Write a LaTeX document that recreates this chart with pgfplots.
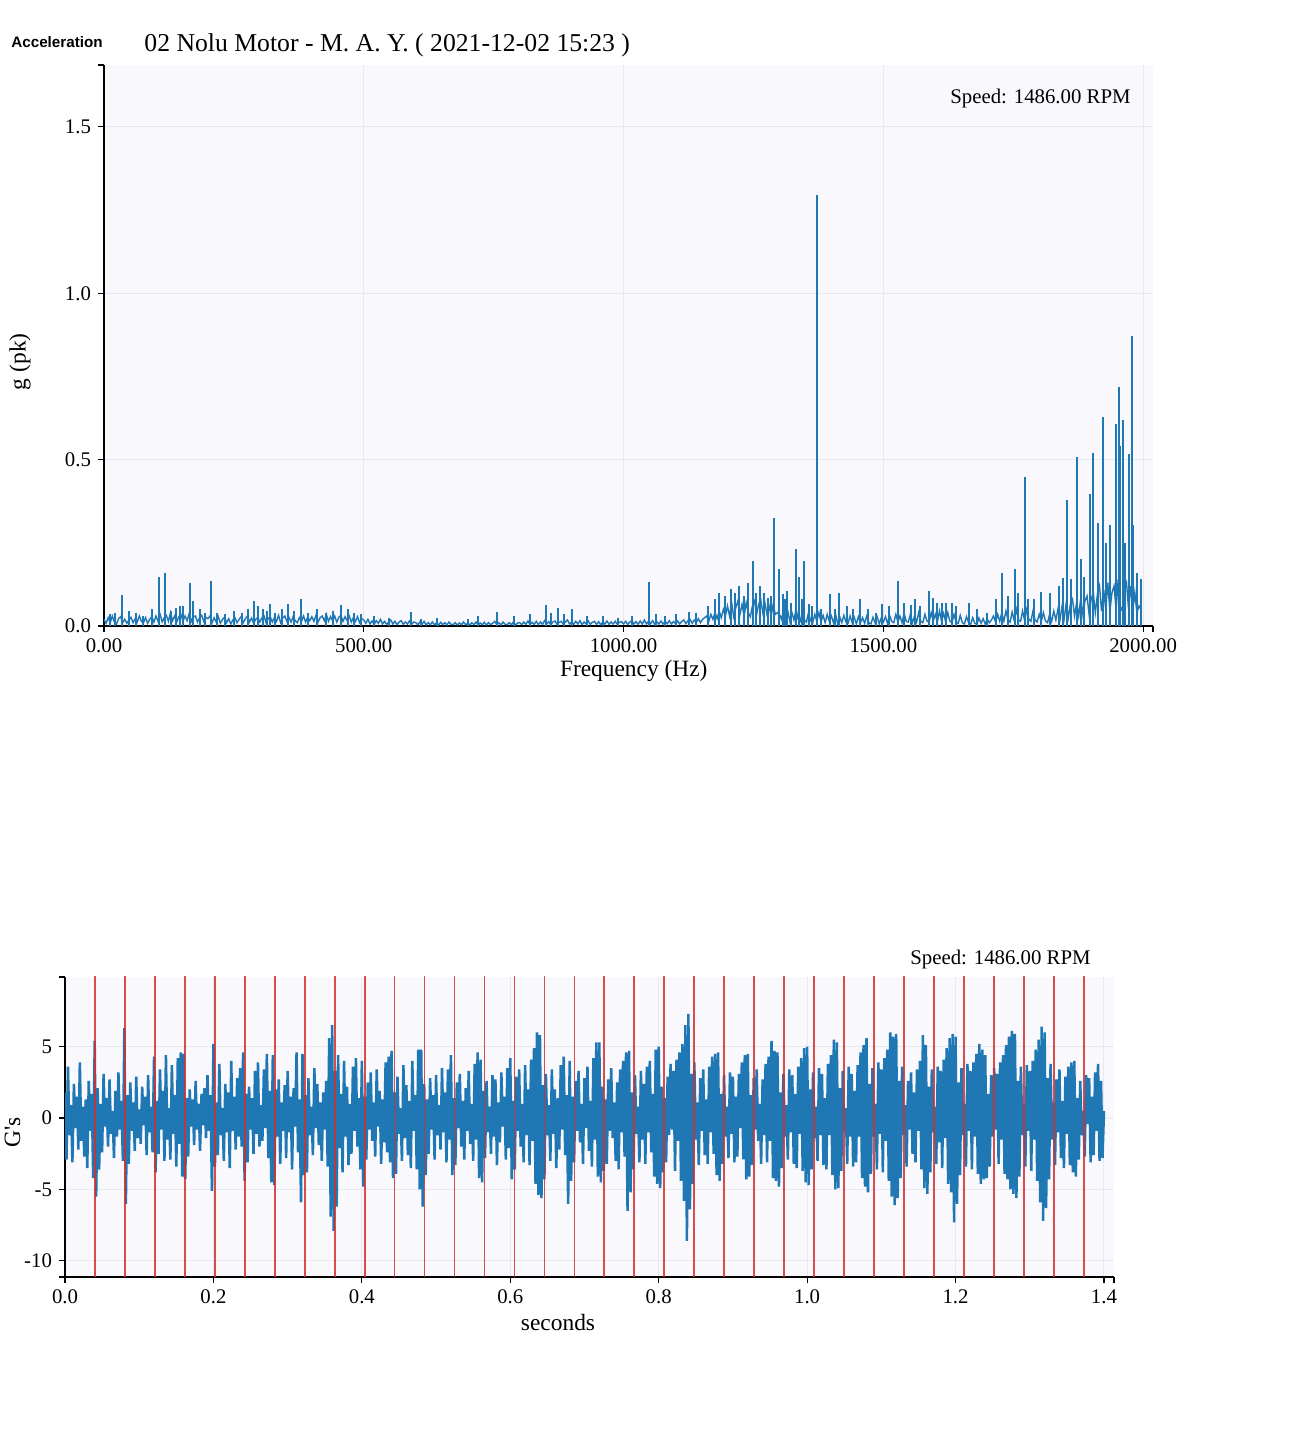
\documentclass[border=0pt]{standalone}
\usepackage{fontspec}
\setmainfont{Liberation Serif}
\newfontfamily\accfont{Liberation Sans}
\usepackage{pgfplots}
\pgfplotsset{compat=1.18}
\definecolor{plotblue}{RGB}{31,119,180}
\definecolor{bgc}{RGB}{249,249,253}
\definecolor{gridc}{RGB}{232,232,240}
\definecolor{redl}{RGB}{214,45,45}
\pgfplotsset{myax/.style={scale only axis, axis x line=bottom, axis y line=left,
  axis line style={-,line width=0.7pt,black}, tick align=outside, major tick length=3pt,
  tick style={black,line width=0.6pt}, grid=major, major grid style={gridc,line width=0.5pt},
  axis background/.style={fill=bgc},
  tick label style={font=\fontsize{10.4}{12}\selectfont},
  label style={font=\fontsize{11.7}{14}\selectfont},
  /pgf/number format/assume math mode=true,
  extra tick style={grid=none}}}
\begin{document}
\begin{tikzpicture}
\useasboundingbox (0,0) rectangle (651.5pt,717pt);
% ---------------- spectrum ----------------
\begin{axis}[myax, at={(52pt,404pt)}, anchor=south west, width=524.5pt, height=280.5pt,
  xmin=0, xmax=2019, ymin=0, ymax=1.686,
  xtick={0,500,1000,1500,2000}, ytick={0,0.5,1,1.5},
  extra x ticks={2019}, extra x tick labels={{}}, extra y ticks={1.686}, extra y tick labels={{}},
  xticklabel style={/pgf/number format/.cd,fixed,fixed zerofill,precision=2,1000 sep={}},
  yticklabel style={/pgf/number format/.cd,fixed,fixed zerofill,precision=1},
  xlabel={Frequency (Hz)}, ylabel={g (pk)},
  xlabel style={at={(axis description cs:0.505,-0.080)},anchor=center},
  ylabel style={at={(axis description cs:-0.080,0.471)},anchor=center}]
\addplot[plotblue, line width=0.7pt] table[row sep=\\, header=false, x expr=\coordindex*4, y index=0] {
0.02\\0.008\\0.025\\0.01\\0.03\\0.012\\0.006\\0.022\\0.028\\0.01\\0.02\\0.008\\0.018\\0.026\\0.01\\0.022\\0.012\\0.03\\0.014\\0.01\\0.025\\0.008\\0.02\\0.028\\0.012\\
0.03\\0.014\\0.035\\0.012\\0.025\\0.032\\0.014\\0.04\\0.016\\0.03\\0.012\\0.028\\0.035\\0.014\\0.03\\0.016\\0.038\\0.014\\0.028\\0.03\\0.012\\0.025\\0.032\\0.014\\0.026\\
0.022\\0.03\\0.01\\0.025\\0.012\\0.028\\0.008\\0.02\\0.026\\0.01\\0.022\\0.006\\0.018\\0.025\\0.01\\0.02\\0.028\\0.01\\0.022\\0.03\\0.012\\0.024\\0.008\\0.02\\0.026\\
0.012\\0.025\\0.03\\0.01\\0.022\\0.028\\0.012\\0.025\\0.014\\0.032\\0.01\\0.024\\0.03\\0.014\\0.026\\0.012\\0.028\\0.016\\0.01\\0.025\\0.014\\0.03\\0.012\\0.026\\0.016\\
0.028\\0.014\\0.032\\0.012\\0.025\\0.03\\0.016\\0.035\\0.014\\0.028\\0.016\\0.03\\0.012\\0.026\\0.032\\0.014\\0.028\\0.016\\0.03\\0.012\\0.025\\0.014\\0.028\\0.01\\0.022\\
0.018\\0.008\\0.02\\0.006\\0.015\\0.005\\0.016\\0.008\\0.02\\0.006\\0.014\\0.005\\0.012\\0.018\\0.006\\0.014\\0.004\\0.012\\0.016\\0.005\\0.012\\0.006\\0.015\\0.005\\0.012\\
0.01\\0.004\\0.012\\0.005\\0.014\\0.003\\0.01\\0.004\\0.012\\0.004\\0.009\\0.003\\0.011\\0.004\\0.01\\0.003\\0.012\\0.005\\0.004\\0.01\\0.003\\0.009\\0.004\\0.012\\0.004\\
0.008\\0.003\\0.01\\0.004\\0.012\\0.003\\0.009\\0.004\\0.011\\0.003\\0.01\\0.004\\0.008\\0.014\\0.004\\0.01\\0.003\\0.012\\0.005\\0.004\\0.01\\0.004\\0.012\\0.003\\0.009\\
0.01\\0.004\\0.012\\0.005\\0.015\\0.004\\0.011\\0.005\\0.014\\0.004\\0.012\\0.005\\0.016\\0.006\\0.013\\0.004\\0.012\\0.015\\0.005\\0.011\\0.014\\0.005\\0.012\\0.018\\0.006\\
0.012\\0.005\\0.014\\0.006\\0.016\\0.004\\0.012\\0.006\\0.015\\0.005\\0.011\\0.014\\0.005\\0.013\\0.004\\0.012\\0.006\\0.015\\0.005\\0.012\\0.006\\0.014\\0.005\\0.011\\0.013\\
0.006\\0.014\\0.005\\0.012\\0.016\\0.006\\0.013\\0.005\\0.015\\0.006\\0.018\\0.006\\0.014\\0.007\\0.016\\0.005\\0.013\\0.006\\0.015\\0.006\\0.014\\0.007\\0.016\\0.006\\0.013\\
0.007\\0.015\\0.006\\0.014\\0.018\\0.007\\0.016\\0.02\\0.008\\0.018\\0.01\\0.022\\0.01\\0.02\\0.025\\0.03\\0.014\\0.035\\0.02\\0.04\\0.022\\0.045\\0.025\\0.05\\0.03\\
0.06\\0.03\\0.07\\0.028\\0.055\\0.075\\0.035\\0.065\\0.03\\0.07\\0.04\\0.028\\0.06\\0.075\\0.035\\0.065\\0.08\\0.04\\0.07\\0.035\\0.06\\0.03\\0.065\\0.035\\0.04\\
0.035\\0.02\\0.05\\0.018\\0.045\\0.015\\0.04\\0.018\\0.05\\0.02\\0.014\\0.042\\0.018\\0.012\\0.04\\0.016\\0.01\\0.035\\0.014\\0.04\\0.012\\0.032\\0.01\\0.035\\0.014\\
0.03\\0.01\\0.035\\0.008\\0.028\\0.01\\0.032\\0.012\\0.008\\0.03\\0.01\\0.026\\0.006\\0.028\\0.01\\0.025\\0.008\\0.03\\0.01\\0.006\\0.026\\0.01\\0.028\\0.006\\0.024\\
0.012\\0.028\\0.008\\0.032\\0.014\\0.01\\0.035\\0.012\\0.03\\0.01\\0.038\\0.014\\0.012\\0.035\\0.01\\0.03\\0.012\\0.04\\0.014\\0.01\\0.035\\0.015\\0.012\\0.04\\0.015\\
0.035\\0.012\\0.045\\0.015\\0.038\\0.012\\0.04\\0.015\\0.01\\0.035\\0.012\\0.008\\0.032\\0.01\\0.006\\0.028\\0.01\\0.005\\0.025\\0.008\\0.005\\0.024\\0.008\\0.022\\0.006\\
0.02\\0.01\\0.018\\0.03\\0.012\\0.035\\0.014\\0.04\\0.015\\0.045\\0.018\\0.012\\0.042\\0.016\\0.05\\0.018\\0.014\\0.045\\0.016\\0.05\\0.02\\0.014\\0.045\\0.018\\0.012\\
0.035\\0.014\\0.04\\0.015\\0.01\\0.035\\0.014\\0.045\\0.018\\0.05\\0.02\\0.06\\0.022\\0.07\\0.025\\0.065\\0.08\\0.03\\0.07\\0.03\\0.085\\0.035\\0.075\\0.09\\0.035\\
0.08\\0.1\\0.04\\0.095\\0.12\\0.045\\0.11\\0.05\\0.13\\0.045\\0.1\\0.12\\0.05\\0.14\\0.06\\0.045\\0.11\\0.13\\0.05\\0.12\\0.045\\0.1\\0.04\\0.06\\0.05\\
};
\addplot[plotblue, line width=1.0pt, ycomb] coordinates {
(12,0.035) (22,0.04) (34.7,0.093) (48,0.045) (62,0.038) (76,0.03) (92,0.05) (105,0.146) (118,0.159)
(128,0.045) (138,0.055) (147,0.059) (152,0.06) (165,0.128) (171,0.076) (184,0.05) (194,0.04) (205,0.135)
(218,0.04) (232,0.035) (250,0.045) (266,0.04) (278,0.05) (288,0.075) (297,0.06) (306,0.05) (314,0.045)
(320,0.065) (330,0.04) (342,0.05) (355,0.065) (366,0.045) (380,0.081) (392,0.04) (410,0.05) (428,0.04)
(440,0.045) (456,0.062) (470,0.05) (482,0.04) (494,0.035)
(520,0.03) (548,0.025) (591,0.041) (610,0.02) (640,0.025) (700,0.02) (720,0.03) (756,0.041) (790,0.03)
(820,0.035) (850,0.064) (860,0.04) (874,0.054) (886,0.035) (900,0.052) (930,0.03) (960,0.03) (990,0.025)
(1016,0.03) (1049,0.133) (1062,0.035) (1080,0.03) (1100,0.035) (1126,0.042) (1140,0.04)
(1162,0.06) (1176,0.08) (1184,0.1) (1196,0.09) (1206,0.11) (1214,0.1) (1222,0.12) (1232,0.09) (1240,0.13)
(1248.6,0.195) (1255,0.10) (1262,0.12) (1270,0.1) (1278,0.085) (1284,0.09) (1290,0.326) (1298.6,0.17)
(1306,0.095) (1310,0.08) (1314,0.105) (1322,0.07) (1331,0.23) (1337,0.148) (1344,0.08) (1348,0.195)
(1356,0.065) (1362,0.06) (1373,1.296) (1380,0.05) (1398,0.095) (1406,0.05) (1415,0.098) (1430,0.06)
(1442,0.05) (1456,0.08) (1470,0.05) (1486,0.04) (1498,0.065) (1510,0.06) (1528,0.135) (1540,0.07)
(1553,0.062) (1560,0.08) (1570,0.06) (1587,0.105) (1596,0.085) (1604,0.07) (1612,0.068) (1620,0.07)
(1632,0.07) (1640,0.06) (1665,0.07) (1680,0.05) (1700,0.04) (1716,0.08) (1728,0.16) (1740,0.09)
(1753,0.172) (1760,0.1) (1772,0.448) (1779,0.08) (1790,0.08) (1803,0.102) (1820,0.1)
(1838,0.12) (1845,0.145) (1853,0.378) (1862,0.14)
(1872,0.508) (1880,0.2) (1887,0.147) (1897,0.396)
(1903,0.521) (1914,0.31) (1922,0.628)
(1928,0.25) (1936,0.305) (1947,0.608)
(1954,0.718) (1955,0.54) (1961,0.62) (1966,0.25) (1972,0.516)
(1978,0.872) (1980,0.305) (1988,0.16) (1996,0.14)
};
\end{axis}
% ---------------- waveform ----------------
\begin{axis}[myax, at={(32.5pt,78.5pt)}, anchor=south west, width=524.5pt, height=150pt,
  xmin=0, xmax=1.4135, ymin=-11.13, ymax=9.88,
  xtick={0,0.2,0.4,0.6,0.8,1.0,1.2,1.4}, ytick={-10,-5,0,5},
  extra x ticks={1.4135}, extra x tick labels={{}}, extra y ticks={9.88,-11.13}, extra y tick labels={{},{}},
  xticklabel style={/pgf/number format/.cd,fixed,fixed zerofill,precision=1},
  xlabel={seconds}, ylabel={G\textquotesingle s},
  xlabel style={at={(axis description cs:0.470,-0.153)},anchor=center},
  ylabel style={at={(axis description cs:-0.050,0.483)},anchor=center}]
\addplot[plotblue, line width=1.25pt] table[row sep=\\, header=false, x expr=\coordindex*0.002, y index=0] {
1.8\\-2.9\\3.6\\-1.2\\0.9\\-3.1\\2.4\\-0.7\\1.5\\-2.2\\3.9\\-1.6\\0.8\\-2.7\\1.3\\-3.5\\2.6\\-0.9\\1.7\\-4.2\\
5.4\\-5.5\\2.1\\-3.6\\1.0\\-2.4\\3.1\\-0.6\\1.4\\-2.0\\2.7\\-1.1\\0.5\\-2.8\\1.9\\-1.3\\3.2\\-0.8\\1.2\\-3.0\\
6.3\\-6.0\\1.6\\-3.2\\2.5\\-0.9\\1.1\\-2.3\\2.9\\-1.4\\0.6\\-1.8\\2.2\\-0.5\\1.5\\-2.6\\3.0\\-1.0\\0.8\\-2.4\\
4.3\\-3.8\\1.2\\-2.5\\3.4\\-0.8\\1.9\\-3.0\\4.4\\-1.5\\0.7\\-2.9\\3.7\\-1.1\\1.6\\-3.4\\4.2\\-1.8\\4.6\\-4.1\\
4.5\\-4.3\\1.4\\-2.7\\2.0\\-0.6\\1.3\\-1.9\\2.6\\-0.8\\1.0\\-2.3\\1.7\\-0.5\\2.1\\-1.4\\3.0\\-0.9\\1.6\\-5.1\\
5.2\\-3.4\\1.1\\-2.6\\3.8\\-1.2\\0.7\\-3.0\\2.4\\-1.0\\1.8\\-3.5\\4.0\\-0.9\\1.5\\-2.2\\2.8\\-1.3\\3.5\\-2.0\\
4.6\\-4.4\\1.7\\-3.1\\2.2\\-0.8\\1.4\\-2.5\\3.3\\-1.1\\3.9\\-2.0\\0.9\\-1.6\\3.4\\-0.7\\4.5\\-2.8\\1.9\\-4.5\\
4.4\\-4.7\\2.0\\-1.3\\2.7\\-3.2\\1.1\\-0.9\\2.3\\-2.8\\3.3\\-1.0\\1.5\\-3.6\\2.1\\-0.6\\4.6\\-2.4\\1.3\\-5.9\\
4.5\\-4.0\\1.6\\-3.8\\2.8\\-1.2\\0.8\\-2.6\\3.5\\-0.7\\2.4\\-1.9\\1.1\\-3.0\\1.8\\-0.8\\2.6\\-3.4\\5.6\\-6.9\\
6.5\\-7.9\\3.3\\-6.2\\4.4\\-2.1\\1.7\\-3.8\\4.0\\-1.3\\2.2\\-3.3\\1.0\\-2.5\\3.6\\-0.9\\4.2\\-2.0\\1.4\\-3.6\\
4.0\\-4.8\\1.5\\-2.9\\2.5\\-0.8\\3.2\\-1.6\\1.1\\-2.7\\3.4\\-0.6\\1.9\\-3.2\\1.3\\-1.7\\3.9\\-2.4\\4.3\\-3.1\\
4.7\\-4.2\\1.8\\-3.9\\2.9\\-1.1\\0.7\\-3.0\\3.7\\-1.4\\2.3\\-2.6\\1.2\\-3.5\\4.0\\-0.9\\1.6\\-3.6\\4.8\\-5.0\\
4.8\\-6.2\\2.4\\-4.0\\1.3\\-2.5\\2.8\\-0.8\\1.6\\-2.9\\3.0\\-1.2\\0.9\\-2.2\\3.5\\-1.0\\1.8\\-3.1\\3.4\\-1.5\\
4.4\\-4.0\\1.4\\-3.3\\2.5\\-0.7\\3.1\\-2.0\\1.2\\-2.9\\2.1\\-0.9\\3.3\\-1.8\\1.0\\-3.0\\3.8\\-1.5\\4.6\\-4.2\\
4.1\\-4.5\\1.9\\-2.8\\2.6\\-1.0\\0.8\\-2.5\\3.0\\-1.3\\2.7\\-3.3\\1.1\\-1.7\\3.2\\-0.6\\1.5\\-2.9\\3.5\\-2.1\\
4.2\\-4.3\\1.2\\-3.6\\2.9\\-0.9\\3.4\\-2.0\\1.0\\-3.1\\3.7\\-1.2\\2.0\\-3.3\\4.1\\-1.6\\4.9\\-4.6\\6.0\\-5.4\\
5.8\\-5.6\\2.3\\-4.3\\3.1\\-1.2\\0.9\\-3.0\\3.4\\-1.1\\2.0\\-3.5\\1.4\\-2.2\\3.7\\-0.8\\4.3\\-2.6\\1.6\\-6.0\\
4.0\\-4.4\\1.5\\-3.1\\2.6\\-0.9\\3.3\\-1.7\\1.0\\-3.2\\2.8\\-0.7\\3.6\\-2.3\\1.2\\-3.4\\4.2\\-1.5\\5.3\\-4.1\\
5.3\\-4.5\\2.2\\-3.7\\1.3\\-3.2\\2.7\\-0.9\\3.5\\-1.4\\1.1\\-3.0\\2.5\\-3.6\\3.4\\-1.0\\4.0\\-2.7\\4.6\\-6.5\\
4.7\\-5.2\\1.8\\-3.6\\3.0\\-1.1\\0.8\\-3.1\\3.3\\-1.5\\2.4\\-3.2\\3.6\\-1.0\\4.0\\-2.4\\1.7\\-4.1\\4.8\\-4.6\\
5.0\\-4.9\\2.2\\-3.8\\1.4\\-3.1\\2.9\\-1.2\\3.8\\-0.8\\3.3\\-3.7\\4.1\\-1.6\\4.6\\-4.4\\5.2\\-5.8\\6.5\\-8.6\\
7.3\\-6.4\\3.1\\-4.6\\3.9\\-1.5\\1.1\\-3.3\\2.8\\-0.9\\3.4\\-2.6\\1.3\\-3.2\\3.6\\-1.0\\4.3\\-2.5\\4.5\\-4.0\\
4.6\\-4.4\\1.7\\-3.2\\3.0\\-1.3\\0.8\\-2.8\\3.2\\-1.1\\2.9\\-3.1\\1.5\\-2.7\\3.1\\-0.7\\3.9\\-2.9\\4.4\\-4.3\\
4.5\\-4.1\\1.6\\-3.3\\2.8\\-0.8\\3.4\\-1.6\\1.0\\-3.2\\2.7\\-1.2\\3.8\\-3.1\\4.3\\-1.6\\5.4\\-4.2\\4.7\\-4.4\\
4.6\\-4.8\\1.8\\-3.5\\3.1\\-1.3\\0.9\\-2.9\\3.4\\-1.0\\3.0\\-3.2\\1.7\\-3.5\\3.6\\-1.1\\4.2\\-3.7\\4.9\\-4.5\\
5.0\\-4.7\\2.0\\-3.6\\3.2\\-1.4\\0.8\\-3.0\\3.5\\-1.2\\3.1\\-3.3\\1.4\\-3.6\\3.8\\-1.2\\4.4\\-4.0\\5.5\\-5.0\\
5.3\\-4.9\\2.1\\-3.7\\3.3\\-1.0\\0.7\\-3.2\\3.6\\-1.3\\3.1\\-3.4\\1.9\\-3.1\\3.7\\-1.3\\4.6\\-4.2\\5.1\\-4.8\\
5.6\\-5.2\\2.4\\-3.9\\3.5\\-1.3\\1.0\\-3.6\\3.9\\-1.1\\3.4\\-3.8\\4.2\\-1.6\\4.8\\-4.4\\6.0\\-5.5\\5.7\\-6.1\\
5.9\\-5.6\\2.6\\-4.2\\3.6\\-1.2\\0.9\\-3.4\\2.6\\-0.8\\3.2\\-2.5\\1.8\\-3.1\\3.4\\-0.9\\4.0\\-3.6\\5.8\\-4.9\\
5.1\\-5.3\\2.2\\-3.8\\3.4\\-1.0\\0.8\\-3.2\\3.6\\-1.7\\3.3\\-3.5\\4.1\\-1.4\\4.9\\-4.6\\5.6\\-5.2\\5.9\\-7.3\\
5.7\\-6.0\\2.5\\-4.0\\3.5\\-1.2\\1.0\\-3.4\\3.8\\-0.9\\3.3\\-3.6\\3.9\\-1.3\\4.5\\-3.9\\5.2\\-4.6\\4.8\\-4.3\\
4.4\\-4.2\\1.7\\-3.4\\3.0\\-1.3\\3.5\\-0.8\\3.1\\-3.2\\3.9\\-1.5\\4.4\\-3.9\\5.1\\-4.3\\5.7\\-5.0\\6.1\\-5.3\\
5.9\\-5.6\\2.6\\-4.1\\3.6\\-1.2\\1.0\\-3.4\\3.7\\-0.9\\3.3\\-3.7\\4.0\\-1.5\\4.8\\-4.4\\5.5\\-5.9\\6.4\\-7.2\\
6.0\\-6.3\\2.8\\-4.3\\3.8\\-1.5\\1.1\\-3.3\\2.7\\-1.0\\3.4\\-2.8\\1.2\\-3.5\\2.9\\-1.1\\3.6\\-3.3\\3.9\\-3.8\\
4.0\\-4.1\\1.4\\-2.9\\2.6\\-1.2\\0.5\\-2.7\\3.0\\-0.4\\2.8\\-3.1\\1.5\\-2.6\\3.2\\-0.9\\3.8\\-3.0\\2.6\\-2.8\\
0.5\\
};
\addplot[redl, opacity=0.85, line width=0.9pt, ycomb] coordinates {
(0.0404,20) (0.0808,20) (0.1211,20) (0.1615,20) (0.2019,20) (0.2423,20) (0.2826,20) (0.3230,20)
(0.3634,20) (0.4038,20) (0.4441,20) (0.4845,20) (0.5249,20) (0.5653,20) (0.6057,20) (0.6460,20)
(0.6864,20) (0.7268,20) (0.7672,20) (0.8075,20) (0.8479,20) (0.8883,20) (0.9287,20) (0.9690,20)
(1.0094,20) (1.0498,20) (1.0902,20) (1.1306,20) (1.1709,20) (1.2113,20) (1.2517,20) (1.2921,20)
(1.3324,20) (1.3728,20)};
\addplot[redl, opacity=0.85, line width=0.9pt, ycomb] coordinates {
(0.0404,-20) (0.0808,-20) (0.1211,-20) (0.1615,-20) (0.2019,-20) (0.2423,-20) (0.2826,-20) (0.3230,-20)
(0.3634,-20) (0.4038,-20) (0.4441,-20) (0.4845,-20) (0.5249,-20) (0.5653,-20) (0.6057,-20) (0.6460,-20)
(0.6864,-20) (0.7268,-20) (0.7672,-20) (0.8075,-20) (0.8479,-20) (0.8883,-20) (0.9287,-20) (0.9690,-20)
(1.0094,-20) (1.0498,-20) (1.0902,-20) (1.1306,-20) (1.1709,-20) (1.2113,-20) (1.2517,-20) (1.2921,-20)
(1.3324,-20) (1.3728,-20)};
\end{axis}
\node[anchor=west, inner sep=0pt, font=\accfont\bfseries\fontsize{7.6}{9}\selectfont] at (5.5pt,696pt) {Acceleration};
\node[anchor=west, inner sep=0pt, font=\fontsize{12.85}{15}\selectfont] at (72pt,694.5pt) {02 Nolu Motor - M. A. Y. ( 2021-12-02 15:23 )};
\node[anchor=east, inner sep=0pt, font=\fontsize{10.4}{12}\selectfont] at (565.5pt,667.5pt) {Speed: 1486.00 RPM};
\node[anchor=east, inner sep=0pt, font=\fontsize{10.4}{12}\selectfont] at (545.5pt,237pt) {Speed: 1486.00 RPM};
\end{tikzpicture}
\end{document}
